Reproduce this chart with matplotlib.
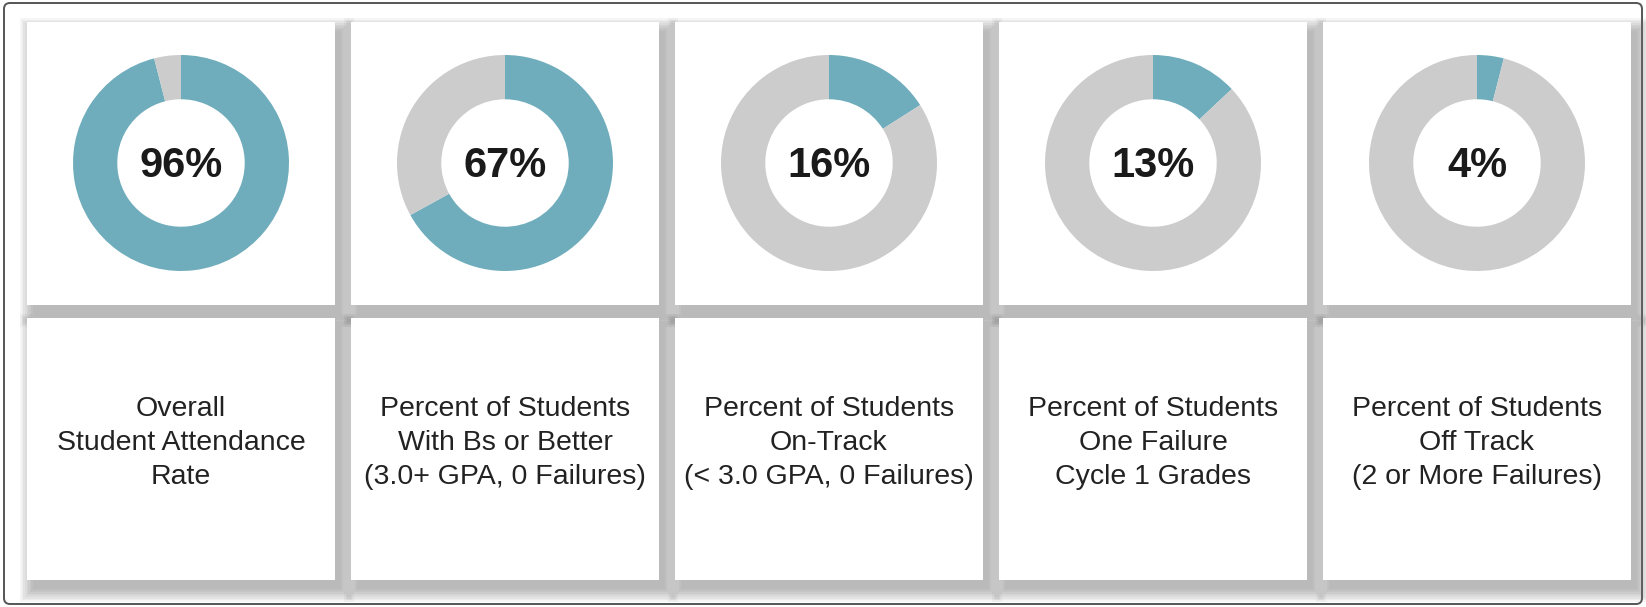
import matplotlib.pyplot as plt
from matplotlib.patches import Rectangle, FancyBboxPatch

values = [96, 67, 16, 13, 4]
labels = [
    "Overall\nStudent Attendance\nRate",
    "Percent of Students\nWith Bs or Better\n(3.0+ GPA, 0 Failures)",
    "Percent of Students\nOn-Track\n(< 3.0 GPA, 0 Failures)",
    "Percent of Students\nOne Failure\nCycle 1 Grades",
    "Percent of Students\nOff Track\n(2 or More Failures)",
]

teal = "#70adbc"
grey = "#cccccc"
W, H = 1646, 607

fig = plt.figure(figsize=(W / 100, H / 100), dpi=100)
bg = fig.add_axes([0, 0, 1, 1])
bg.set_xlim(0, W)
bg.set_ylim(H, 0)
bg.axis("off")

# outer frame
bg.add_patch(FancyBboxPatch((4, 3), W - 8, H - 6, boxstyle="round,pad=0,rounding_size=6",
                            fc="white", ec="#555555", lw=1.4))

card_x0, pitch, card_w = 27, 324, 308
rows = [(22, 305), (318, 580)]


def card(x, y0, y1):
    # soft shadow, offset down-right
    for k in range(9):
        grow = k * 1.6
        bg.add_patch(Rectangle((x + 6 - grow, y0 + 9 - grow), card_w + 2 * grow, (y1 - y0) + 2 * grow,
                               fc="#777777", ec="none", alpha=0.07))
    bg.add_patch(Rectangle((x, y0), card_w, y1 - y0, fc="white", ec="none"))


for i in range(len(values)):
    x = card_x0 + i * pitch
    for y0, y1 in rows:
        card(x, y0, y1)

for i, (v, lab) in enumerate(zip(values, labels)):
    x = card_x0 + i * pitch
    cx, cy, r = x + 154, 163, 108
    ax = fig.add_axes([(cx - r) / W, 1 - (cy + r) / H, 2 * r / W, 2 * r / H])
    ax.pie([v, 100 - v], colors=[teal, grey], startangle=90, counterclock=False,
           radius=1, wedgeprops=dict(width=0.41, edgecolor="none"))
    ax.set_xlim(-1, 1)
    ax.set_ylim(-1, 1)
    ax.set_aspect("equal")
    ax.text(0, -0.03, f"{v}%", ha="center", va="center", fontsize=30, fontweight="bold",
            family="Liberation Sans", color="#1a1a1a")
    bg.text(x + card_w / 2, 443, lab, ha="center", va="center", fontsize=20.5,
            family="Liberation Sans", color="#222222", linespacing=1.42)

fig.savefig("out.png", dpi=100)
